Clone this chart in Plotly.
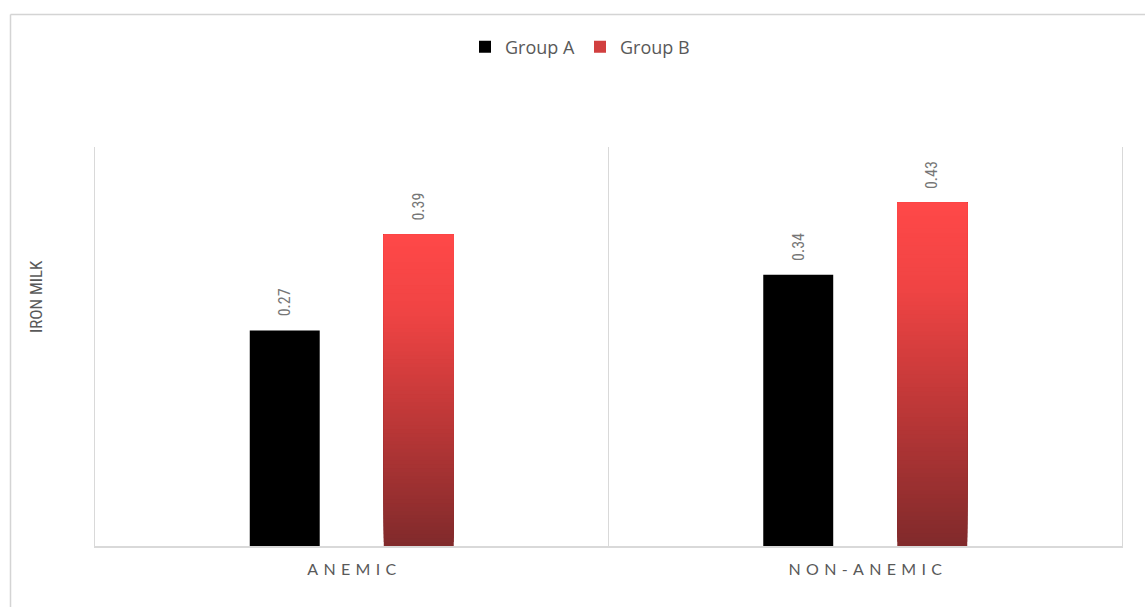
import plotly.graph_objects as go

categories = ["ANEMIC", "NON-ANEMIC"]
cat_labels = ["A\u2004N\u2004E\u2004M\u2004I\u2004C", "N\u2004O\u2004N\u2004-\u2004A\u2004N\u2004E\u2004M\u2004I\u2004C"]
group_a = [0.27, 0.34]
group_b = [0.39, 0.43]
series_names = ["Group A", "Group B"]
y_title = "IRON MILK"

W, H = 1145, 607
ML, MR, MT, MB = 95, 23, 147, 61
BARGAP = 0.478
BARGROUPGAP = 0.478
GRAY = "#595959"
LABEL_GRAY = "#767676"
LINE = "#D9D9D9"
LABEL_FONT = "Liberation Sans Narrow, Arial Narrow, Roboto Condensed, sans-serif"
MAIN_FONT = "Lato, Open Sans, sans-serif"

# gradient stops (fraction of bar height from bottom -> rgb)
stops = [(0.0, (128, 42, 43)), (0.45, (196, 57, 57)), (0.75, (240, 68, 68)), (1.0, (255, 72, 72))]


def grad_color(t):
    for (t0, c0), (t1, c1) in zip(stops[:-1], stops[1:]):
        if t <= t1:
            f = (t - t0) / (t1 - t0) if t1 > t0 else 0
            return "rgb(%d,%d,%d)" % tuple(round(a + (b - a) * f) for a, b in zip(c0, c1))
    return "rgb(%d,%d,%d)" % stops[-1][1]


N = 80
fig = go.Figure()
fig.add_trace(go.Bar(
    x=categories, y=group_a, name=series_names[0], offsetgroup="A",
    marker=dict(color="#000000", line=dict(width=0)), hoverinfo="skip",
))

# gradient bars: each slice runs from its base up to the value, drawn bottom-up
xs, ys, bases, cols = [], [], [], []
for c, v in zip(categories, group_b):
    for k in range(N):
        b = v * k / N
        xs.append(c)
        ys.append(v - b)
        bases.append(b)
        cols.append(grad_color((k + 0.5) / N))
fig.add_trace(go.Bar(
    x=xs, y=ys, base=bases, name=series_names[1], offsetgroup="B", showlegend=False,
    marker=dict(color=cols, line=dict(width=0)), hoverinfo="skip",
))
# legend entry for Group B
fig.add_trace(go.Bar(
    x=categories, y=[None, None], name=series_names[1], offsetgroup="B",
    marker=dict(color="#D13F3F", line=dict(width=0)), hoverinfo="skip",
))

# value labels
plot_w = W - ML - MR
ph = H - MT - MB
slot = plot_w / len(categories) * (1 - BARGAP) / 2
for vals, sign in ((group_a, -1), (group_b, 1)):
    for c, v in zip(categories, vals):
        fig.add_annotation(
            x=c, y=v, xref="x", yref="y", text="%.2f" % v, showarrow=False,
            textangle=-90, xshift=sign * slot / 2, yshift=12, yanchor="bottom",
            xanchor="center", font=dict(family=LABEL_FONT, size=16, color=LABEL_GRAY),
        )

# y-axis title
fig.add_annotation(
    x=(36 - ML) / plot_w, y=(H - MB - 297) / ph, xref="paper", yref="paper",
    text=y_title, showarrow=False, textangle=-90, xanchor="center", yanchor="middle",
    font=dict(family=LABEL_FONT, size=17, color=GRAY),
)

# chart-area border (left and top)
bx = (10.5 - ML) / plot_w
by = 1 + (MT - 14.5) / ph
fig.add_shape(type="line", xref="paper", yref="paper", x0=bx, x1=bx, y0=-0.2, y1=by,
              line=dict(color="#D4D4D4", width=1.5))
fig.add_shape(type="line", xref="paper", yref="paper", x0=bx, x1=1.1, y0=by, y1=by,
              line=dict(color="#D4D4D4", width=1.5))

fig.update_layout(
    width=W, height=H,
    margin=dict(l=ML, r=MR, t=MT, b=MB),
    paper_bgcolor="white", plot_bgcolor="white",
    barmode="group", bargap=BARGAP, bargroupgap=BARGROUPGAP,
    showlegend=True,
    legend=dict(orientation="h", x=(580 - ML) / plot_w, xanchor="center",
                y=1 + (MT - 47) / ph, yanchor="middle",
                font=dict(family="Open Sans, sans-serif", size=18, color=GRAY),
                itemwidth=30, traceorder="normal", tracegroupgap=0),
    xaxis=dict(
        type="category", tickmode="array", tickvals=categories, ticktext=cat_labels,
        tickson="boundaries", showgrid=True, gridcolor=LINE, gridwidth=1,
        showline=True, linecolor=LINE, linewidth=2, ticks="",
        ticklabelstandoff=8,
        tickfont=dict(family=MAIN_FONT, size=16, color=GRAY),
        range=[-0.5, 1.5], fixedrange=True,
    ),
    yaxis=dict(range=[0, 0.5], showgrid=False, showticklabels=False,
               zeroline=False, showline=True, mirror=True, linecolor=LINE,
               linewidth=1, fixedrange=True),
)

fig.write_html("out.html")
